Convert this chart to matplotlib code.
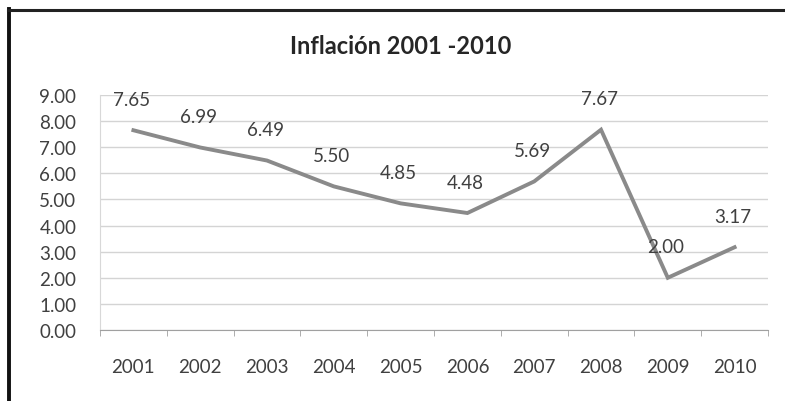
import matplotlib
matplotlib.use("Agg")
import matplotlib.pyplot as plt
from matplotlib.lines import Line2D

years = ["2001", "2002", "2003", "2004", "2005", "2006", "2007", "2008", "2009", "2010"]
inflation = [7.65, 6.99, 6.49, 5.50, 4.85, 4.48, 5.69, 7.67, 2.00, 3.17]
yticks = [0, 1, 2, 3, 4, 5, 6, 7, 8, 9]
title = "Inflación 2001 -2010"

plt.rcParams['font.family'] = ['Lato', 'DejaVu Sans']

fig = plt.figure(figsize=(7.85, 4.02), dpi=100)
fig.patch.set_facecolor("white")
ax = fig.add_axes([100/785, 71/402, 668/785, 235/402])

x = list(range(len(years)))
ax.plot(x, inflation, color="#8a8a8a", lw=2.8, solid_joinstyle="miter", zorder=3)
for xi, v in zip(x, inflation):
    ax.annotate(f"{v:.2f}", (xi, v), xytext=(-2, 31), textcoords="offset pixels",
                ha="center", va="center", fontsize=13.5, color="#404040", zorder=4)

ax.set_xlim(-0.5, len(years) - 0.5)
ax.set_ylim(0, 9)
ax.set_yticks(yticks)
ax.set_yticklabels([f"{t:.2f}" for t in yticks])
ax.set_xticks(x)
ax.set_xticklabels(years)
ax.set_xticks([i - 0.5 for i in range(len(years) + 1)], minor=True)

ax.grid(axis="y", color="#d4d4d4", lw=1.0, zorder=0)
for s in ["top", "right"]:
    ax.spines[s].set_visible(False)
ax.spines["left"].set_color("#d8d8d8")
ax.spines["bottom"].set_color("#a0a0a0")
ax.tick_params(axis="y", length=0, pad=17, labelsize=13.5, labelcolor="#404040")
ax.tick_params(axis="x", which="major", length=0, pad=20, labelsize=13.5, labelcolor="#404040")
ax.tick_params(axis="x", which="minor", length=4, color="#a0a0a0")

fig.text(401/785, 1 - 47/402, title, ha="center", va="center", fontsize=17,
         fontweight="bold", color="#262626")

# scanned frame border
fig.add_artist(Line2D([9/785, 9/785], [0, 1 - 10/402], transform=fig.transFigure,
                      color="#111111", lw=2.8))
fig.add_artist(Line2D([8/785, 1], [1 - 11/402, 1 - 11/402], transform=fig.transFigure,
                      color="#222222", lw=2.2))

fig.savefig("out.png", dpi=100, facecolor="white")
